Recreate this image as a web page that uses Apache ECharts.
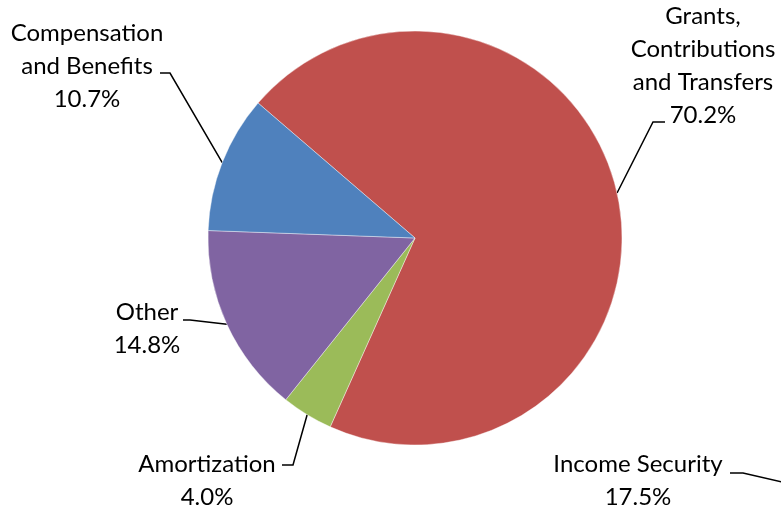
<!DOCTYPE html>
<html>
<head>
<meta charset="utf-8">
<script src="https://cdn.jsdelivr.net/npm/echarts@6/dist/echarts.min.js"></script>
<style>
html,body{margin:0;padding:0;background:#fff;}
#chart{width:781px;height:510px;}
</style>
</head>
<body>
<div id="chart"></div>
<script>
// ---- data ----
const categories = ['Grants, Contributions and Transfers', 'Amortization', 'Other', 'Compensation and Benefits'];
const labelNames = ['Grants,\nContributions\nand Transfers', 'Amortization', 'Other', 'Compensation\nand Benefits'];
const shares = [70.2, 4.0, 14.8, 10.7];
const sliceColors = ['#C0504D', '#9BBB59', '#8064A2', '#4F81BD'];
// label of a neighbouring (cropped) chart
const strayNames = ['Income Security'];
const strayShares = [17.5];

// ---- layout (label placement only) ----
const FONT = 'Lato';
const FS = 24;
const LH = 33;
const labelPos = [
  { cx: 703, cy: 66, end: [665, 122], elbow: [653, 122] },
  { cx: 207, cy: 481, end: [282, 465], elbow: [293, 465] },
  { cx: 147, cy: 329, end: [183, 320], elbow: [190, 320] },
  { cx: 87,  cy: 66,  end: [160, 73],  elbow: [170, 73] }
];

const chart = echarts.init(document.getElementById('chart'), null, { renderer: 'canvas' });

const data = categories.map((c, i) => ({
  name: c,
  value: shares[i],
  itemStyle: { color: sliceColors[i] },
  label: { formatter: labelNames[i] + '\n' + shares[i].toFixed(1) + '%' }
}));

chart.setOption({
  animation: false,
  backgroundColor: '#ffffff',
  series: [{
    type: 'pie',
    center: [415, 238],
    radius: 207,
    startAngle: 139.3,
    clockwise: true,
    avoidLabelOverlap: false,
    data: data,
    itemStyle: { borderColor: '#ffffff', borderWidth: 0.4 },
    label: {
      show: true,
      color: '#000000',
      fontFamily: FONT,
      fontSize: FS,
      lineHeight: LH,
      align: 'center'
    },
    labelLine: {
      show: true,
      lineStyle: { color: '#000000', width: 1.5 }
    },
    emphasis: { disabled: true },
    labelLayout: function (params) {
      const p = labelPos[params.dataIndex];
      const edge = params.labelLinePoints ? params.labelLinePoints[0] : p.elbow;
      return {
        x: p.cx,
        y: p.cy,
        align: 'center',
        verticalAlign: 'middle',
        labelLinePoints: [edge, p.elbow, p.end]
      };
    }
  }],
  graphic: [
    {
      type: 'text',
      x: 638,
      y: 481,
      style: {
        text: strayNames[0] + '\n' + strayShares[0].toFixed(1) + '%',
        fontFamily: FONT,
        fontSize: FS,
        lineHeight: LH,
        fill: '#000000',
        align: 'center',
        verticalAlign: 'middle'
      }
    },
    {
      type: 'polyline',
      shape: { points: [[730, 473], [743, 473], [800, 486]] },
      style: { stroke: '#000000', lineWidth: 1.5, fill: null }
    }
  ]
});
</script>
</body>
</html>
